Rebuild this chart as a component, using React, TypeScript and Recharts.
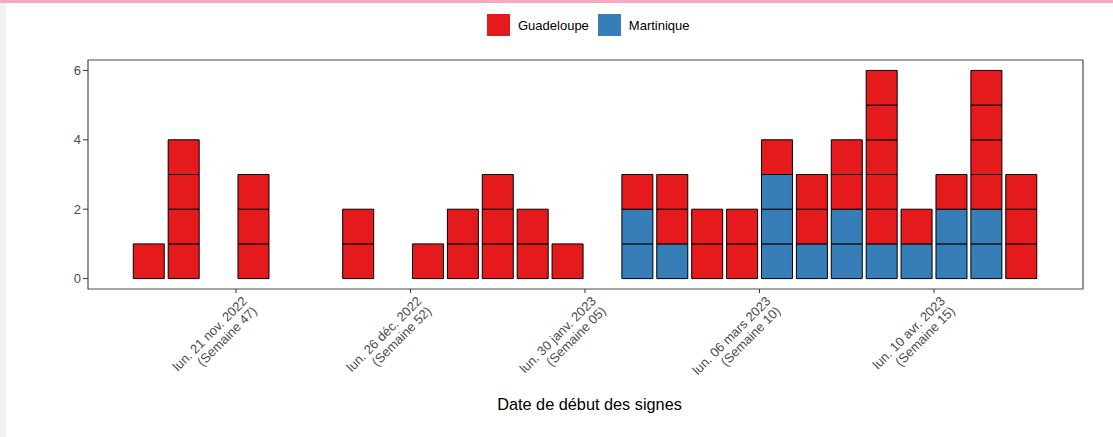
import React from 'react'
import { BarChart, Bar, XAxis, YAxis, ReferenceArea } from 'recharts'

// semaines ISO, de la S44 2022 à la S17 2023
const WEEKS = [44, 45, 46, 47, 48, 49, 50, 51, 52, 1, 2, 3, 4, 5, 6, 7, 8, 9, 10, 11, 12, 13, 14, 15, 16, 17]
const GUADELOUPE = [1, 4, 0, 3, 0, 0, 2, 0, 1, 2, 3, 2, 1, 0, 1, 2, 2, 2, 1, 2, 2, 5, 1, 1, 4, 3]
const MARTINIQUE = [0, 0, 0, 0, 0, 0, 0, 0, 0, 0, 0, 0, 0, 0, 2, 1, 0, 0, 3, 1, 2, 1, 1, 2, 2, 0]

const TICK_WEEKS = [47, 52, 5, 10, 15]
const TICK_DATES = ['lun. 21 nov. 2022', 'lun. 26 déc. 2022', 'lun. 30 janv. 2023', 'lun. 06 mars 2023', 'lun. 10 avr. 2023']
const Y_TICKS = [0, 2, 4, 6]

const RED = '#E41A1C'
const BLUE = '#377EB8'
const FONT = '"Liberation Sans", Arial, sans-serif'

const M_MAX = Math.max(...MARTINIQUE)
const G_MAX = Math.max(...GUADELOUPE)

// one row per week, one unit series per case so each case gets its own box
const data = WEEKS.map((w, i) => {
  const row: Record<string, number> = { x: i + 0.5, week: w }
  for (let k = 0; k < M_MAX; k++) row[`m${k}`] = MARTINIQUE[i] > k ? 1 : 0
  for (let k = 0; k < G_MAX; k++) row[`g${k}`] = GUADELOUPE[i] > k ? 1 : 0
  return row
})

const tickPositions = TICK_WEEKS.map((w) => WEEKS.indexOf(w))

const X_DOMAIN: [number, number] = [-1.24, 27.27]
const Y_DOMAIN: [number, number] = [-0.3, 6.3]

function DateTick(props: any) {
  const { x, y, payload } = props
  const idx = tickPositions.indexOf(payload.value)
  if (idx < 0) return null
  return (
    <g transform={`translate(${x + 5},${y})`}>
      <text transform="rotate(-45)" textAnchor="end" fill="#4d4d4d" fontSize={13} fontFamily={FONT}>
        <tspan x={0} dy="0.75em">{TICK_DATES[idx]}</tspan>
        <tspan x={0} dy="1.08em">{`(Semaine ${String(TICK_WEEKS[idx]).padStart(2, '0')})`}</tspan>
      </text>
    </g>
  )
}

function LegendItem({ color, label }: { color: string; label: string }) {
  return (
    <div style={{ display: 'flex', alignItems: 'center', marginRight: 9 }}>
      <span style={{ width: 23, height: 22, background: color, display: 'inline-block' }} />
      <span style={{ marginLeft: 8, fontSize: 13, fontFamily: FONT, color: '#000' }}>{label}</span>
    </div>
  )
}

export default function App() {
  const mKeys = Array.from({ length: M_MAX }, (_, k) => `m${k}`)
  const gKeys = Array.from({ length: G_MAX }, (_, k) => `g${k}`)

  return (
    <div style={{ position: 'absolute', left: 0, top: 0, width: 1113, height: 437, background: '#fff', overflow: 'hidden' }}>
      <div style={{ position: 'absolute', left: 0, top: 0, width: 1113, height: 3, background: '#F4A9C1' }} />
      <div style={{ position: 'absolute', left: 0, top: 3, width: 6, height: 434, background: '#f2f2f2' }} />
      <div style={{ position: 'absolute', left: 487, top: 14, display: 'flex' }}>
        <LegendItem color={RED} label="Guadeloupe" />
        <LegendItem color={BLUE} label="Martinique" />
      </div>
      <BarChart
        width={1113}
        height={437}
        data={data}
        margin={{ top: 60, right: 30, bottom: 0, left: 58 }}
        style={{ position: 'absolute', left: 0, top: 0 }}
      >
        <XAxis
          dataKey="x"
          type="number"
          domain={X_DOMAIN}
          allowDataOverflow
          ticks={tickPositions}
          interval={0}
          height={148}
          axisLine={false}
          tickSize={4}
          tickLine={{ stroke: '#333' }}
          tick={<DateTick />}
          label={{ value: 'Date de début des signes', position: 'insideBottom', offset: 27, dx: 4, fill: '#000', fontSize: 16.3, fontFamily: FONT }}
        />
        <YAxis
          type="number"
          domain={Y_DOMAIN}
          allowDataOverflow
          ticks={Y_TICKS}
          width={30}
          axisLine={false}
          tickSize={5}
          tickLine={{ stroke: '#333' }}
          tick={{ fill: '#4d4d4d', fontSize: 13, fontFamily: FONT }}
        />
        {mKeys.map((k) => (
          <Bar key={k} dataKey={k} stackId="a" fill={BLUE} stroke="#000" strokeWidth={1} barSize={31} isAnimationActive={false} />
        ))}
        {gKeys.map((k) => (
          <Bar key={k} dataKey={k} stackId="a" fill={RED} stroke="#000" strokeWidth={1} barSize={31} isAnimationActive={false} />
        ))}
        <ReferenceArea x1={X_DOMAIN[0]} x2={X_DOMAIN[1]} y1={Y_DOMAIN[0]} y2={Y_DOMAIN[1]} fill="none" stroke="#4d4d4d" strokeWidth={1.2} ifOverflow="visible" />
      </BarChart>
    </div>
  )
}
